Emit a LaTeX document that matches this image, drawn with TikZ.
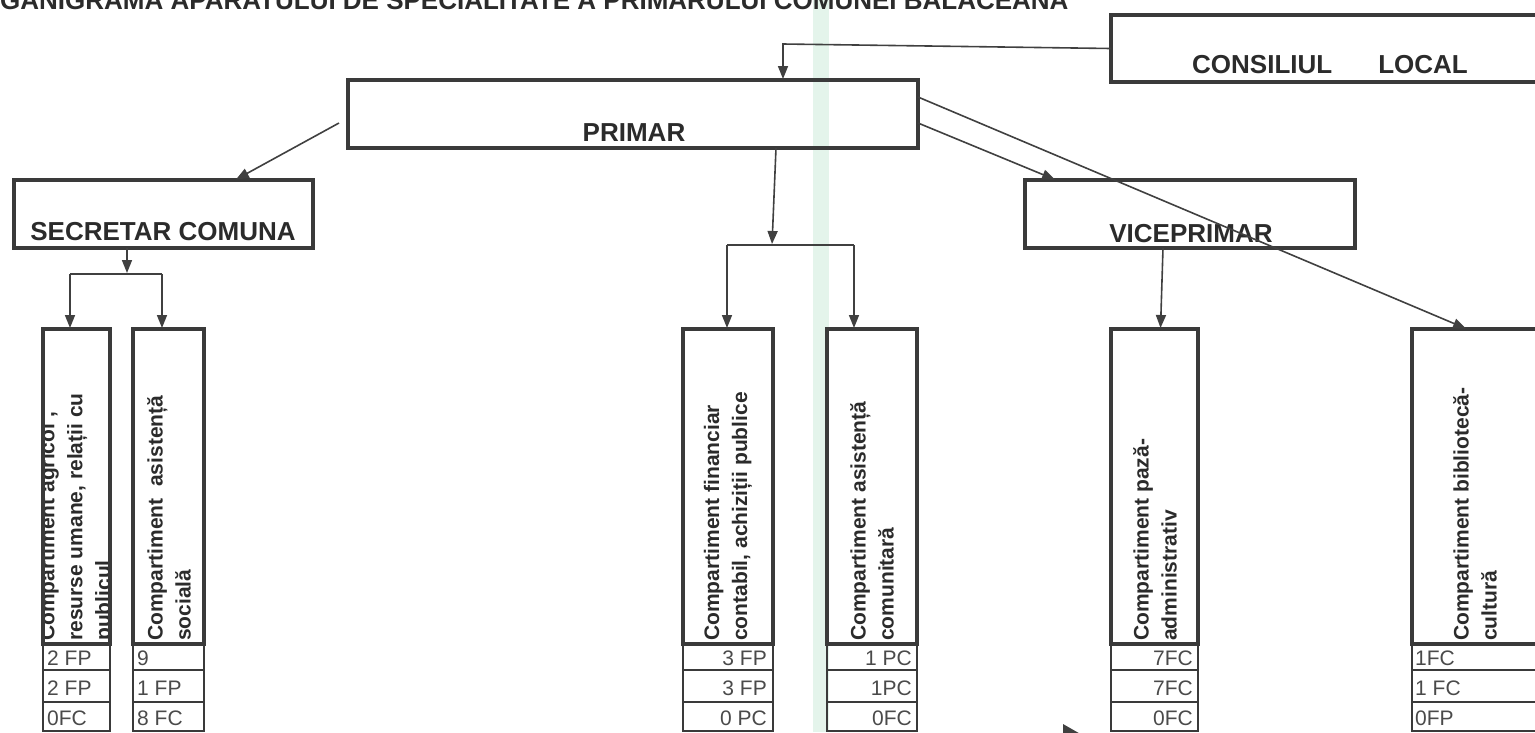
\documentclass[tikz,border=0pt]{standalone}
\usepackage{fontspec}
\setmainfont{Liberation Sans}
\usetikzlibrary{arrows.meta,calc}
\definecolor{boxc}{HTML}{3A3A3A}
\definecolor{linec}{HTML}{404040}
\definecolor{txtc}{HTML}{2B2B2B}
\definecolor{numc}{HTML}{4A4A4A}
\definecolor{band}{HTML}{E4F4EB}
\newcommand\mkcol[3]{%
  \node[box,minimum width=#3pt,minimum height=315pt] (#1) at (#2,486.5) {};
  \node[cell,minimum width=#3pt,minimum height=26pt] (#1a) at (#2,657) {};
  \node[cell,minimum width=#3pt,minimum height=32pt] (#1b) at (#2,686) {};
  \node[cell,minimum width=#3pt,minimum height=29pt] (#1c) at (#2,716.5) {};
}
\begin{document}
\begin{tikzpicture}[x=1pt,y=-1pt,
  box/.style={draw=boxc,line width=3.8pt,inner sep=0pt,outer sep=0pt},
  cell/.style={draw=boxc,line width=2.4pt,inner sep=0pt,outer sep=0pt},
  conn/.style={draw=linec,line width=1.6pt,shorten >=1pt,-{Triangle[length=13pt,width=10pt]}},
  plain/.style={draw=linec,line width=1.6pt},
  big/.style={font=\bfseries\fontsize{26}{30}\selectfont,text=txtc,inner sep=0pt},
  vert/.style={rotate=90,anchor=west,align=left,font=\bfseries\fontsize{21}{28}\selectfont,text=txtc,inner sep=0pt},
  numl/.style={font=\fontsize{21}{24}\selectfont,text=numc,inner sep=0pt,anchor=base west},
  numr/.style={font=\fontsize{21}{24}\selectfont,text=numc,inner sep=0pt,anchor=base east},
]
\useasboundingbox (0,0) rectangle (1535,732);
\clip (0,0) rectangle (1535,732);
\fill[band] (813,0) rectangle (829,732);

% title (cut off at the top, as in the scan)
\node[big,anchor=base west] (title) at (-39,9.5) {ORGANIGRAMA APARATULUI DE SPECIALITATE A PRIMARULUI COMUNEI BALACEANA};

% top level boxes
\node[box,minimum width=449pt,minimum height=67pt] (cl) at (1335.5,48.5) {};
\node[big,anchor=base west] (clt) at (1192,73) {CONSILIUL\hspace{46pt}LOCAL};
\node[box,minimum width=570pt,minimum height=68pt] (pr) at (633,114) {};
\node[big,anchor=base] (prt) at (634,141) {PRIMAR};
\node[box,minimum width=299pt,minimum height=68pt] (sec) at (163.5,214) {};
\node[big,anchor=base] (sect) at (163,240) {SECRETAR COMUNA};
\node[box,minimum width=330pt,minimum height=68pt] (vp) at (1190,214) {};
\node[big,anchor=base] (vpt) at (1191,242) {VICEPRIMAR};

% department columns
\begin{scope}
\clip (45,331) rectangle (108.5,642);
\node[vert] (c1t) at (77,641) {Compartiment agricol ,\\resurse umane, relații cu\\publicul};
\end{scope}
\mkcol{c1}{76.5}{67}
\mkcol{c2}{168.5}{71}
\mkcol{c3}{728}{90}
\mkcol{c4}{872}{90}
\mkcol{c5}{1154.5}{87}
\mkcol{c6}{1476}{128}

\node[vert] (c2t) at (169,641) {Compartiment\ \ asistență\\socială};
\node[vert] (c3t) at (728,641) {Compartiment financiar\\contabil, achiziții publice};
\node[vert] (c4t) at (872,641) {Compartiment asistență\\comunitară};
\node[vert] (c5t) at (1155,641) {Compartiment pază-\\administrativ};
\node[vert] (c6t) at (1475,641) {Compartiment bibliotecă-\\cultură};

% cell values
\node[numl] (c1av) at (47,665) {2 FP};
\node[numl] (c1bv) at (47,695) {2 FP};
\node[numl] (c1cv) at (47,725) {0FC};
\node[numl] (c2av) at (137,665) {9};
\node[numl] (c2bv) at (137,695) {1 FP};
\node[numl] (c2cv) at (137,725) {8 FC};
\node[numr] (c3av) at (767,665) {3 FP};
\node[numr] (c3bv) at (767,695) {3 FP};
\node[numr] (c3cv) at (767,725) {0 PC};
\node[numr] (c4av) at (912,665) {1 PC};
\node[numr] (c4bv) at (912,695) {1PC};
\node[numr] (c4cv) at (912,725) {0FC};
\node[numr] (c5av) at (1193,665) {7FC};
\node[numr] (c5bv) at (1193,695) {7FC};
\node[numr] (c5cv) at (1193,725) {0FC};
\node[numl] (c6av) at (1415,665) {1FC};
\node[numl] (c6bv) at (1415,695) {1 FC};
\node[numl] (c6cv) at (1415,725) {0FP};

% connectors
\coordinate (b1) at (783,44);
\draw[conn] (cl.west) -- (b1) -- (b1 |- pr.north);

\coordinate (p1) at (339,123);
\draw[conn] (p1) -- ([xshift=221pt]sec.north west);

\coordinate (j2) at (127,274);
\coordinate (j2l) at (70,274);
\coordinate (j2r) at (162,274);
\draw[conn] ([xshift=-36.5pt]sec.south) -- (j2);
\draw[plain] (j2l) -- (j2r);
\draw[conn] (j2l) -- (j2l |- c1.north);
\draw[conn] (j2r) -- (j2r |- c2.north);

\coordinate (j1) at (772,245);
\coordinate (j1l) at (727,245);
\coordinate (j1r) at (854,245);
\draw[conn] ([xshift=428pt]pr.south west) -- (j1);
\draw[plain] (j1l) -- (j1r);
\draw[conn] (j1l) -- (j1l |- c3.north);
\draw[conn] (j1r) -- (j1r |- c4.north);

\draw[conn] ([yshift=-9pt]pr.east) -- ([xshift=31pt]vp.north west);
\draw[conn] ([xshift=138pt]vp.south west) -- ([xshift=6pt]c5.north);
\draw[conn] ([yshift=17pt]pr.east) -- ([xshift=55pt]c6.north west);

% stray arrowhead at the bottom edge
\fill[linec] (1063,724) -- (1084,736) -- (1063,748) -- cycle;
\end{tikzpicture}
\end{document}
